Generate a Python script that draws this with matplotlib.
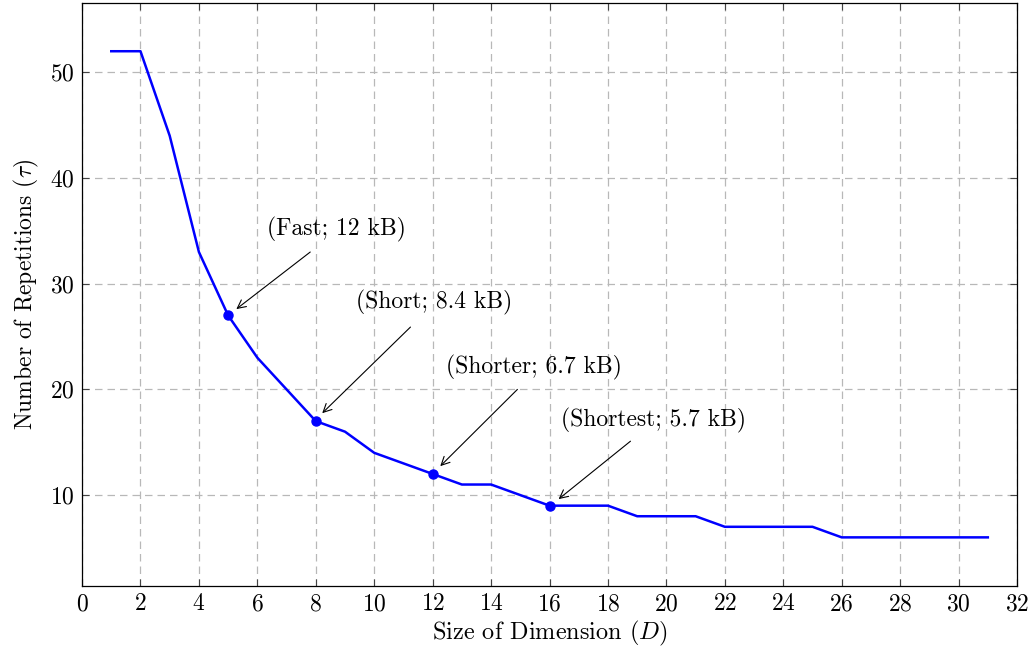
import numpy as np
import matplotlib.pyplot as plt

# data
dims = list(range(1, 32))
reps = [52, 52, 44, 33, 27, 23, 20, 17, 16, 14, 13, 12, 11, 11, 10, 9, 9, 9,
        8, 8, 8, 7, 7, 7, 7, 6, 6, 6, 6, 6, 6]
mark_dims = [5, 8, 12, 16]
labels = ["(Fast; 12 kB)", "(Short; 8.4 kB)", "(Shorter; 6.7 kB)", "(Shortest; 5.7 kB)"]

plt.rcParams["font.family"] = "serif"
plt.rcParams["font.serif"] = ["cmr10"]
plt.rcParams["mathtext.fontset"] = "cm"
plt.rcParams["axes.formatter.use_mathtext"] = True

fig = plt.figure(figsize=(10.32, 6.54), dpi=100)
ax = fig.add_axes([0.0795, 0.104, 0.906, 0.892])

ax.plot(dims, reps, color="blue", lw=1.8, zorder=3)
mark_vals = [reps[dims.index(d)] for d in mark_dims]
ax.plot(mark_dims, mark_vals, "o", color="blue", ms=6.5, zorder=4)

# annotation placement (text centre, arrow tail, arrow head)
text_pos = [(8.70, 35.1), (12.06, 28.2), (15.45, 22.1), (19.56, 17.1)]
tails = [(7.81, 33.0), (11.24, 25.9), (14.90, 20.0), (18.77, 15.1)]
heads = [(5.28, 27.6), (8.22, 17.75), (12.26, 12.74), (16.31, 9.62)]
for lab, tp, tl, hd in zip(labels, text_pos, tails, heads):
    ax.text(tp[0], tp[1], lab, ha="center", va="center", fontsize=17)
    ax.annotate("", xy=hd, xytext=tl,
                arrowprops=dict(arrowstyle="->", color="black", lw=0.8,
                                shrinkA=0, shrinkB=0, mutation_scale=15))

ax.set_xlim(0, 32)
ax.set_ylim(1.4, 56.6)
ax.set_xticks(np.arange(0, 33, 2))
ax.set_yticks([10, 20, 30, 40, 50])
ax.grid(True, color="#b8b8b8", ls=(0, (6, 4)), lw=0.9)
ax.set_axisbelow(True)
ax.tick_params(direction="in", top=True, right=True, length=5,
               labelsize=17, color="#444444", pad=5)
for s in ax.spines.values():
    s.set_linewidth(0.9)

ax.set_xlabel("Size of Dimension ($D$)", fontsize=17.5, labelpad=3)
ax.set_ylabel(r"Number of Repetitions ($\tau$)", fontsize=17, labelpad=7)

fig.savefig("out.png", dpi=100)
